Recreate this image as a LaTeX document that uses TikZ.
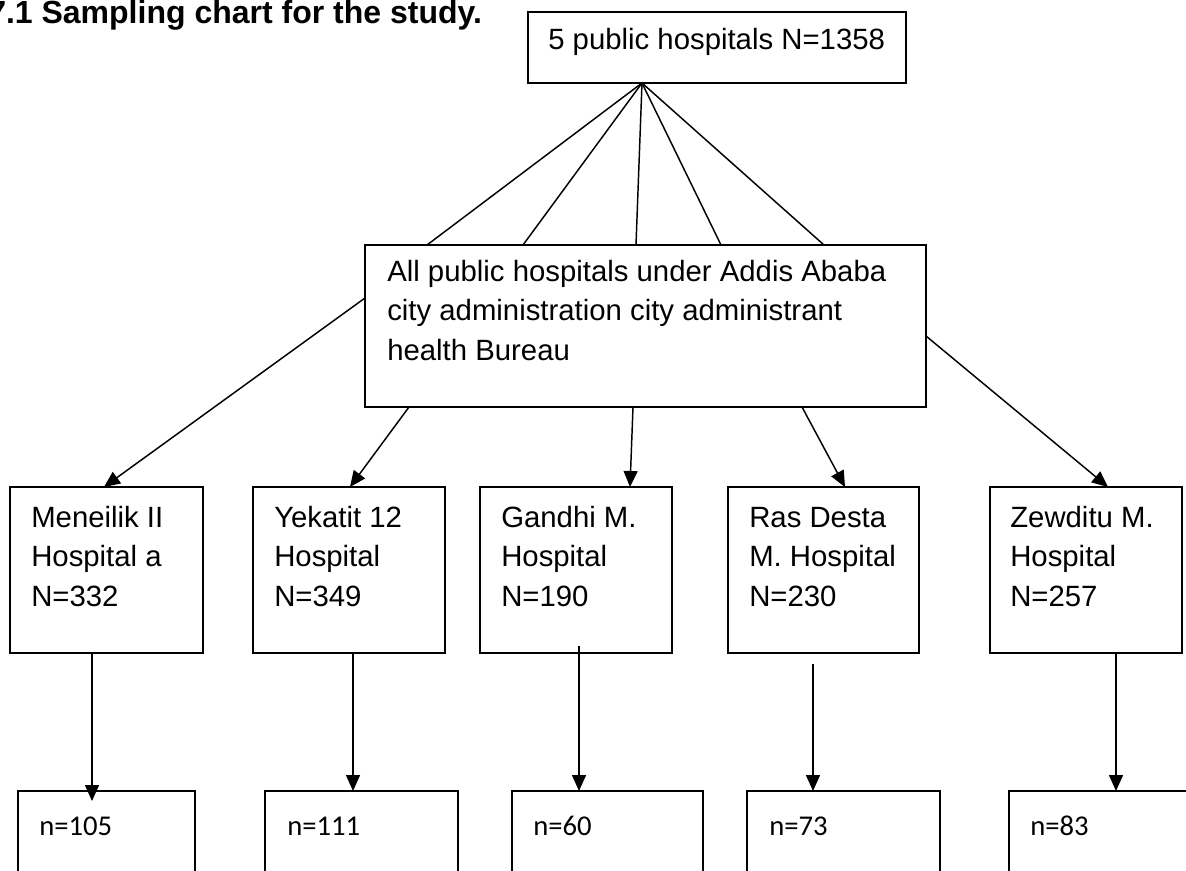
\documentclass[tikz,border=0pt]{standalone}
\usepackage{fontspec}
\setmainfont{Liberation Sans}
\newfontfamily\calfont{Carlito}
\usetikzlibrary{arrows.meta}
\begin{document}
\begin{tikzpicture}[x=0.75pt,y=-0.75pt,
  box/.style={draw, line width=1.3pt, inner sep=0pt, outer sep=0pt, anchor=north west},
  hbox/.style={box, minimum height=124.5pt},
  nbox/.style={box, minimum height=75pt},
  txt/.style={inner sep=0pt, anchor=base west, align=left, font=\fontsize{22pt}{29.6pt}\selectfont},
  ntxt/.style={inner sep=0pt, anchor=base west, font=\calfont\fontsize{21.5pt}{26pt}\selectfont},
  link/.style={line width=1.1pt},
  arr/.style={line width=1.1pt, -{Triangle[length=12pt,width=10.5pt]}}]
\useasboundingbox (0,0) rectangle (1186,871);
\clip (0,0) rectangle (1186,871);
\fill[white] (0,0) rectangle (1186,871);

% title
\node[inner sep=0pt, anchor=base west, font=\bfseries\fontsize{24pt}{28pt}\selectfont] (title) at (-12,23) {7.1 Sampling chart for the study.};

% boxes
\node[box, minimum width=283.5pt, minimum height=53.25pt] (top) at (528,12) {};
\node[box, minimum width=420.75pt, minimum height=121.5pt] (mid) at (365,245) {};
\node[hbox, minimum width=144.75pt] (h1) at (10,487) {};
\node[hbox, minimum width=144pt] (h2) at (253,487) {};
\node[hbox, minimum width=144pt] (h3) at (480,487) {};
\node[hbox, minimum width=143.25pt] (h4) at (728,487) {};
\node[hbox, minimum width=144pt] (h5) at (990,487) {};
\node[nbox, minimum width=132.75pt] (b1) at (18,791) {};
\node[nbox, minimum width=144.75pt] (b2) at (265,791) {};
\node[nbox, minimum width=143.25pt] (b3) at (512,791) {};
\node[nbox, minimum width=144.75pt] (b4) at (747,791) {};
\node[nbox, minimum width=144pt] (b5) at (1009,791) {};

% texts (base anchor = baseline of the last line)
\node[txt] (ttop) at (548,49) {5 public hospitals N=1358};
\node[txt] (tmid) at (387,360) {All public hospitals under Addis Ababa\\city administration city administrant\\health Bureau};
\node[txt] (th1) at (31,606) {Meneilik II\\Hospital a\\N=332};
\node[txt] (th2) at (274,606) {Yekatit 12\\Hospital\\N=349};
\node[txt] (th3) at (501,606) {Gandhi M.\\Hospital\\N=190};
\node[txt] (th4) at (749,606) {Ras Desta\\M. Hospital\\N=230};
\node[txt] (th5) at (1010,606) {Zewditu M.\\Hospital\\N=257};
\node[ntxt] (tb1) at (39,835) {n=105};
\node[ntxt] (tb2) at (287,835) {n=111};
\node[ntxt] (tb3) at (533,835) {n=60};
\node[ntxt] (tb4) at (769,835) {n=73};
\node[ntxt] (tb5) at (1030,835) {n=83};

% fan lines from top box to middle box
\coordinate (fan) at ([xshift=85.5pt]top.south west);
\draw[link] (fan) -- ([xshift=46.5pt]mid.north west);
\draw[link] (fan) -- ([xshift=118.5pt]mid.north west);
\draw[link] (fan) -- ([xshift=203.25pt]mid.north west);
\draw[link] (fan) -- ([xshift=267pt]mid.north west);
\draw[link] (fan) -- ([xshift=344.25pt]mid.north west);

% middle box to hospitals
\draw[arr] ([yshift=-39.75pt]mid.north west) -- ([xshift=70.5pt]h1.north west);
\draw[arr] ([xshift=33pt]mid.south west) -- ([xshift=72.75pt]h2.north west);
\draw[arr] ([xshift=201pt]mid.south west) -- ([xshift=112.5pt]h3.north west);
\draw[arr] ([xshift=327.75pt]mid.south west) -- ([xshift=87.75pt]h4.north west);
\draw[arr] ([yshift=-68.25pt]mid.north east) -- ([xshift=88.5pt]h5.north west);

% hospitals to samples
\draw[arr] ([xshift=61.5pt]h1.south west) -- ([xshift=55.5pt,yshift=-7.5pt]b1.north west);
\draw[arr] ([xshift=75pt]h2.south west) -- ([xshift=66pt]b2.north west);
\draw[arr] ([xshift=74.25pt,yshift=5.25pt]h3.south west) -- ([xshift=50.25pt]b3.north west);
\draw[arr] ([xshift=63.75pt,yshift=-8.25pt]h4.south west) -- ([xshift=49.5pt]b4.north west);
\draw[arr] ([xshift=94.5pt]h5.south west) -- ([xshift=80.25pt]b5.north west);
\end{tikzpicture}
\end{document}
